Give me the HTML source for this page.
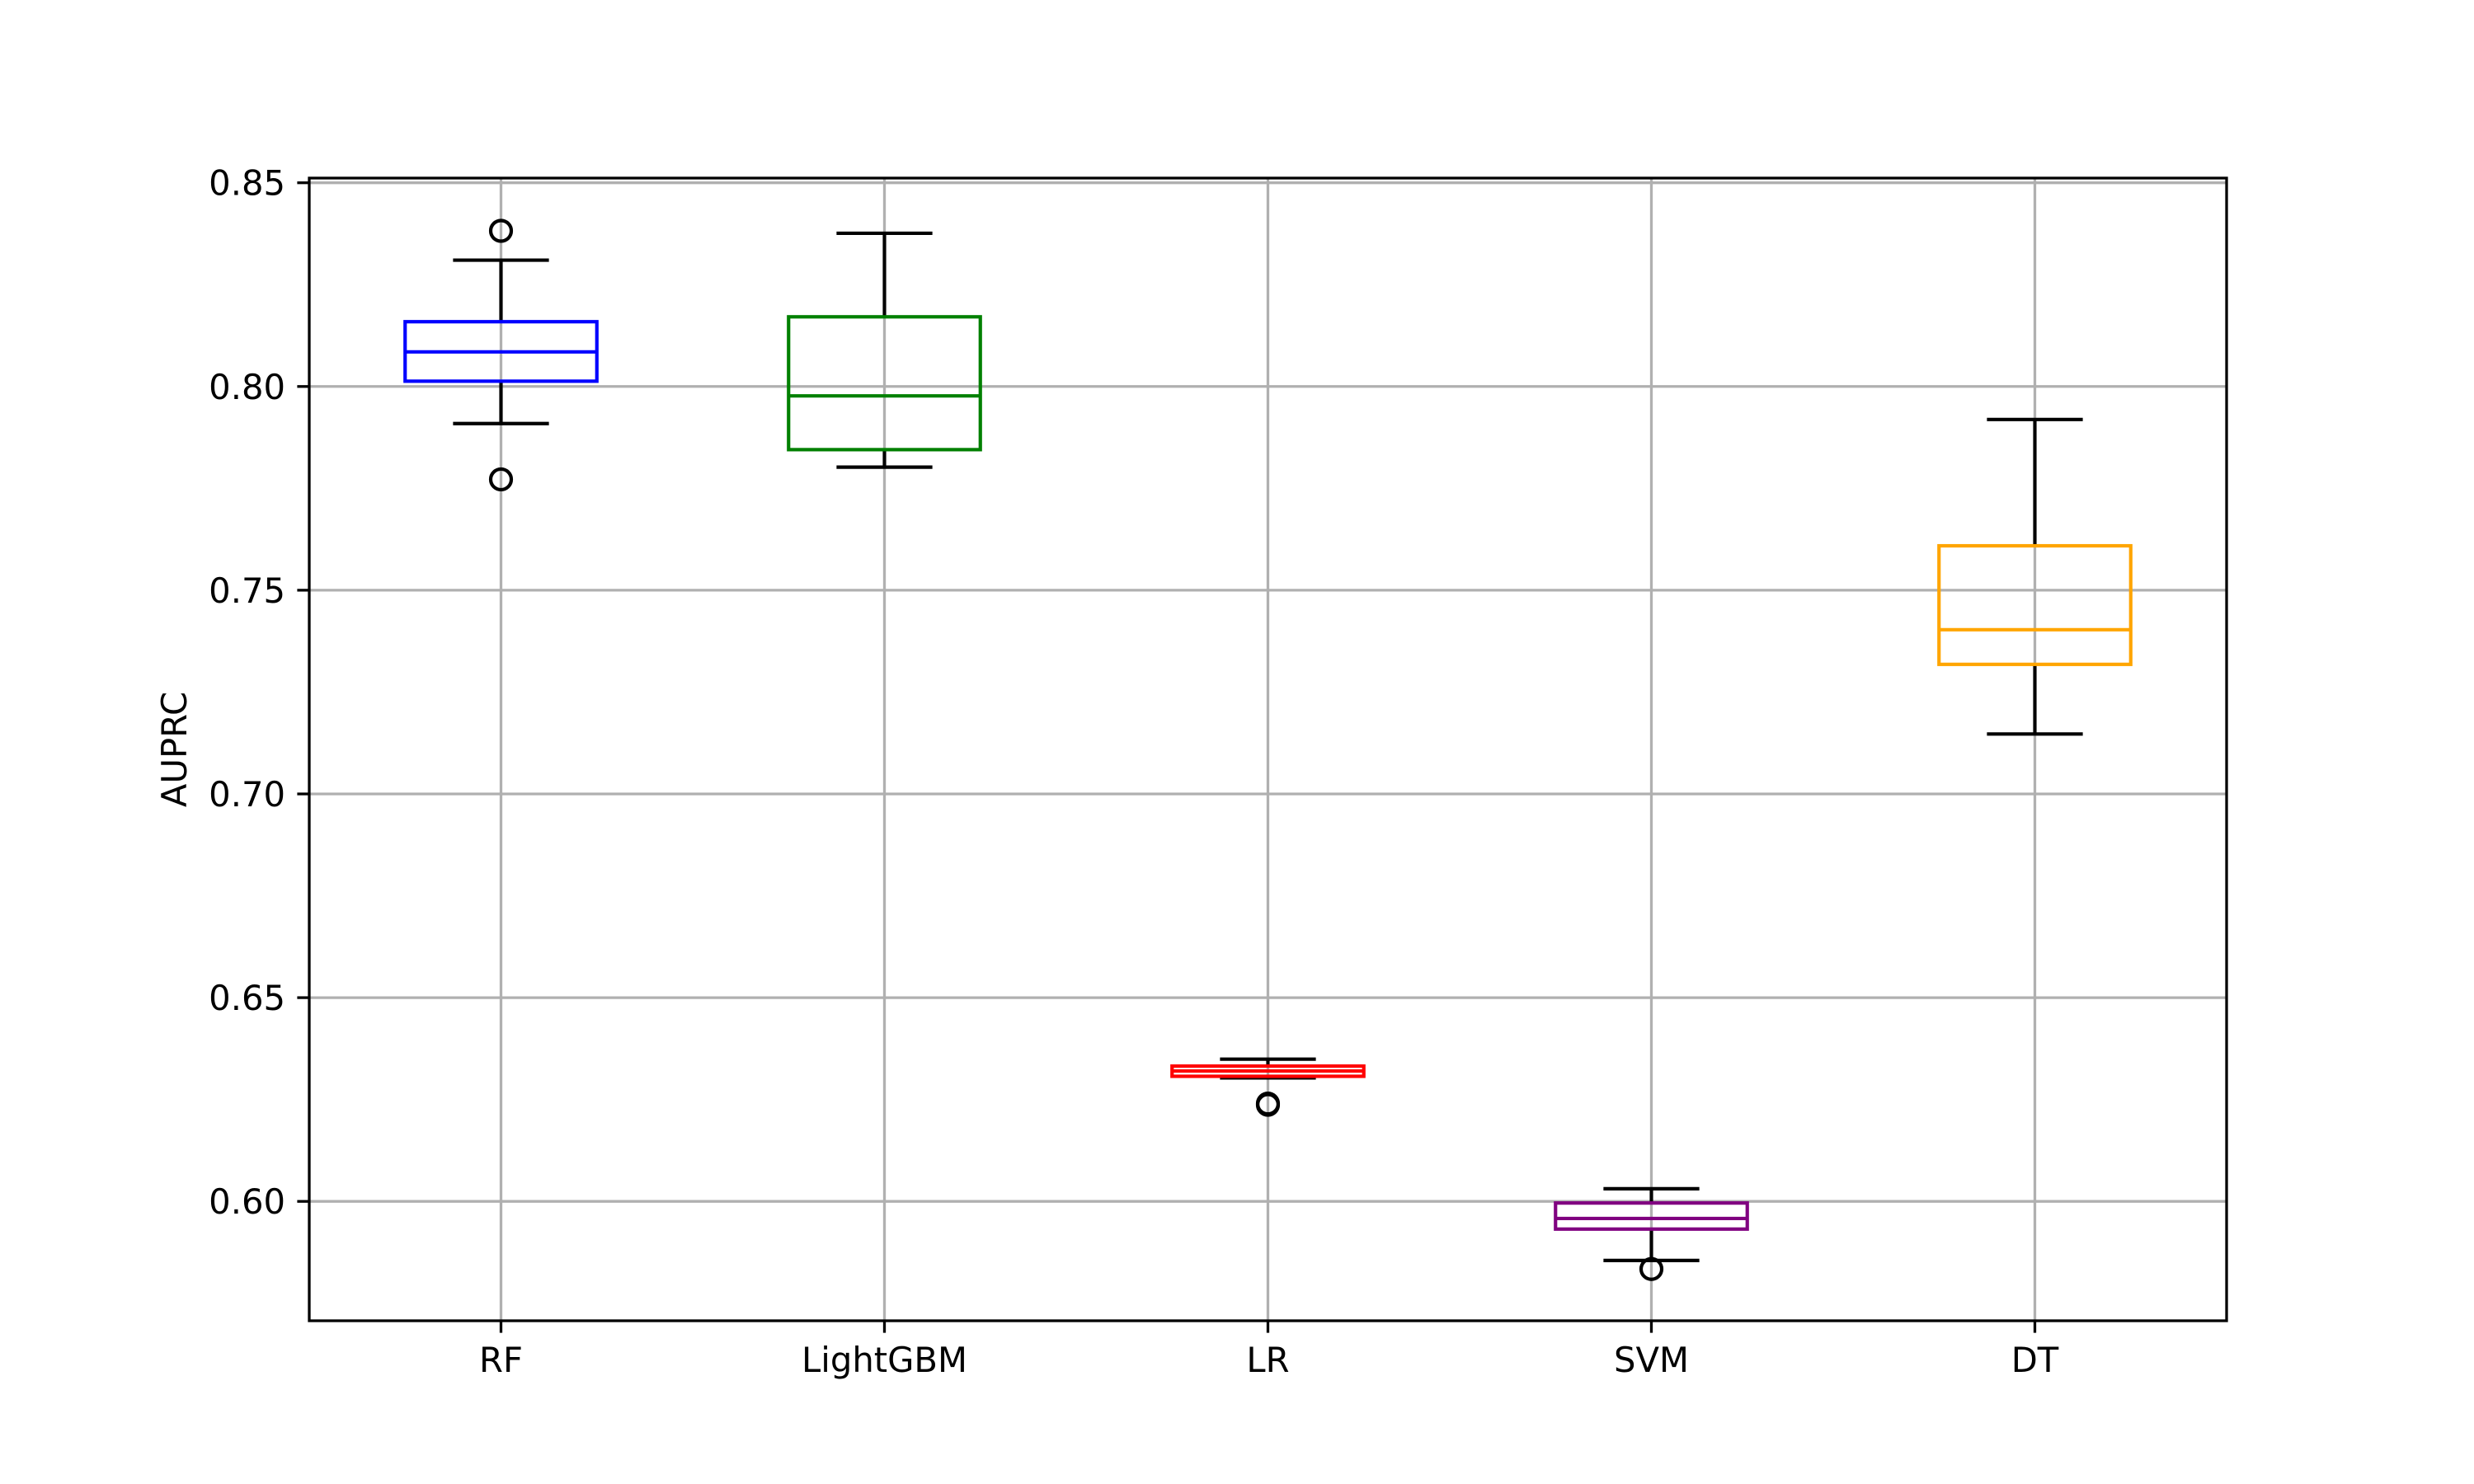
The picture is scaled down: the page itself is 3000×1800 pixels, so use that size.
<!DOCTYPE html>
<html><head><meta charset="utf-8"><style>
html,body{margin:0;padding:0;background:#fff;}
svg{display:block;}
text{font-family:"DejaVu Sans","Liberation Sans",sans-serif;font-size:41.7px;fill:#000;}
</style></head><body>
<svg id="chart" width="3000" height="1800" viewBox="0 0 3000 1800" xmlns="http://www.w3.org/2000/svg">
<rect width="3000" height="1800" fill="#fff"/>
<g id="grid"></g>
<g id="boxes"></g>
<rect x="375" y="216" width="2325" height="1386" fill="none" stroke="#000" stroke-width="3.3"/>
<g id="ticks"></g>
<text x="0" y="0" transform="translate(226,909) rotate(-90)" text-anchor="middle">AUPRC</text>
</svg>
<script>
const categories = ["RF","LightGBM","LR","SVM","DT"];
const colors = ["blue","green","red","purple","orange"];
const whiskerLow = [0.7909,0.7802,0.6303,0.5855,0.7147];
const q1 = [0.8013,0.7845,0.6307,0.5932,0.7318];
const medians = [0.8085,0.7977,0.6320,0.5958,0.7403];
const q3 = [0.8159,0.8171,0.6332,0.5996,0.7609];
const whiskerHigh = [0.8310,0.8376,0.6349,0.6031,0.7919];
const fliers = [[0.8382,0.7772],[],[0.6237,0.6240],[0.5834],[]];
const yTicks = [0.60,0.65,0.70,0.75,0.80,0.85];
const yTickLabels = ["0.60","0.65","0.70","0.75","0.80","0.85"];

const L=375,R=2700,T=216,B=1602,yMin=0.5707,yMax=0.85115;
const x = i => L + (i + 1 - 0.5) / categories.length * (R - L);
const y = v => B - (v - yMin) / (yMax - yMin) * (B - T);
const NS="http://www.w3.org/2000/svg";
function mk(parent, tag, attrs){const e=document.createElementNS(NS,tag);for(const k in attrs)e.setAttribute(k,attrs[k]);parent.appendChild(e);return e;}
const grid=document.getElementById('grid'),boxes=document.getElementById('boxes'),ticks=document.getElementById('ticks');
const unit=(R-L)/categories.length;

yTicks.forEach((v,i)=>{
  const g=mk(grid,'line',{x1:L,x2:R,y1:y(v),y2:y(v),stroke:'#b0b0b0','stroke-width':3.3});
  
  
  const t=mk(ticks,'line',{x1:L-14.6,x2:L,y1:y(v),y2:y(v),stroke:'#000','stroke-width':3.3});
  
  
  const lb=mk(ticks,'text',{x:L-29,y:y(v)+15,'text-anchor':'end'});
  lb.textContent=yTickLabels[i];
  
  
});
categories.forEach((c,i)=>{
  const cx=x(i);
  const g=mk(grid,'line',{x1:cx,x2:cx,y1:T,y2:B,stroke:'#b0b0b0','stroke-width':3.3});
  
  
  const t=mk(ticks,'line',{x1:cx,x2:cx,y1:B,y2:B+14.6,stroke:'#000','stroke-width':3.3});
  
  
  const lb=mk(ticks,'text',{x:cx,y:B+62,'text-anchor':'middle'});
  lb.textContent=c;
  
  

  const grp=mk(boxes,'g',{});
  
  
  const hw=unit*0.25,cw=unit*0.125,lw=4.17;
  mk(grp,'line',{x1:cx,x2:cx,y1:y(q1[i]),y2:y(whiskerLow[i]),stroke:'#000','stroke-width':lw});
  mk(grp,'line',{x1:cx,x2:cx,y1:y(q3[i]),y2:y(whiskerHigh[i]),stroke:'#000','stroke-width':lw});
  mk(grp,'line',{x1:cx-cw,x2:cx+cw,y1:y(whiskerLow[i]),y2:y(whiskerLow[i]),stroke:'#000','stroke-width':lw});
  mk(grp,'line',{x1:cx-cw,x2:cx+cw,y1:y(whiskerHigh[i]),y2:y(whiskerHigh[i]),stroke:'#000','stroke-width':lw});
  mk(grp,'rect',{x:cx-hw,y:y(q3[i]),width:2*hw,height:y(q1[i])-y(q3[i]),fill:'none',stroke:colors[i],'stroke-width':lw});
  mk(grp,'line',{x1:cx-hw,x2:cx+hw,y1:y(medians[i]),y2:y(medians[i]),stroke:colors[i],'stroke-width':lw});
  fliers[i].forEach(f=>{
    const o=mk(grp,'circle',{cx:cx,cy:y(f),r:12.5,fill:'none',stroke:'#000','stroke-width':4.17});
    
    
  });
});
</script>
</body></html>
